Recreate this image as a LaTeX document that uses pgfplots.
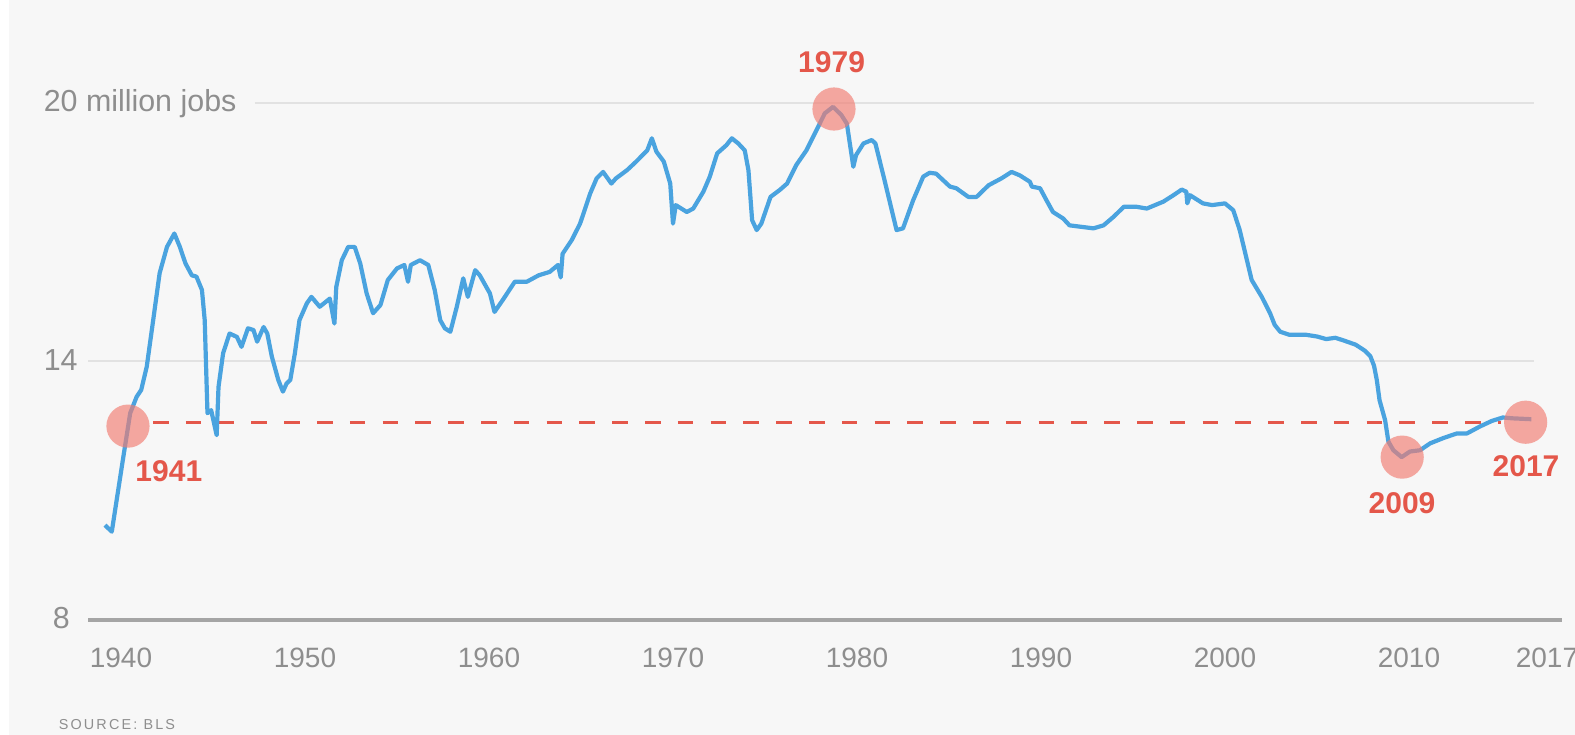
\documentclass[border=0pt]{standalone}
\usepackage{fontspec}
\setmainfont{Liberation Sans}
\newfontfamily\srcfont[LetterSpace=15]{Liberation Sans}
\usepackage{pgfplots}
\pgfplotsset{compat=1.18}

\definecolor{bg}{HTML}{F7F7F7}
\definecolor{jobblue}{HTML}{4AA3DF}
\definecolor{markred}{HTML}{E4574A}
\definecolor{dotpink}{HTML}{F27C71}
\definecolor{labgray}{HTML}{8E8E8E}
\definecolor{gridgray}{HTML}{E2E2E2}
\definecolor{basegray}{HTML}{A5A5A5}

% manufacturing jobs, millions
\pgfplotstableread{
year value
1939.13 10.20
1939.50 10.05
1940.10 11.71
1940.50 12.80
1940.85 13.18
1941.10 13.34
1941.40 13.88
1941.75 14.96
1942.10 16.05
1942.50 16.66
1942.90 16.97
1943.20 16.66
1943.50 16.28
1943.85 16.00
1944.10 15.97
1944.40 15.66
1944.55 14.96
1944.70 12.80
1944.90 12.87
1945.20 12.29
1945.30 13.41
1945.55 14.19
1945.90 14.65
1946.30 14.57
1946.55 14.34
1946.90 14.77
1947.20 14.73
1947.40 14.46
1947.75 14.80
1947.95 14.65
1948.20 14.11
1948.55 13.57
1948.80 13.30
1949.00 13.49
1949.20 13.57
1949.45 14.19
1949.70 14.96
1950.10 15.35
1950.35 15.50
1950.80 15.27
1951.35 15.46
1951.60 14.88
1951.70 15.73
1952.00 16.35
1952.35 16.66
1952.70 16.66
1953.00 16.28
1953.35 15.58
1953.70 15.12
1954.10 15.31
1954.50 15.89
1955.00 16.16
1955.40 16.24
1955.60 15.85
1955.75 16.24
1956.25 16.35
1956.70 16.24
1957.05 15.66
1957.35 14.96
1957.60 14.77
1957.90 14.69
1958.25 15.27
1958.60 15.93
1958.85 15.50
1959.25 16.12
1959.50 16.00
1960.05 15.58
1960.30 15.15
1960.80 15.46
1961.40 15.85
1962.05 15.85
1962.70 16.00
1963.30 16.08
1963.75 16.24
1963.90 15.95
1964.00 16.50
1964.50 16.82
1964.95 17.20
1965.50 17.90
1965.85 18.25
1966.20 18.40
1966.65 18.13
1966.90 18.25
1967.50 18.44
1968.00 18.64
1968.60 18.90
1968.85 19.18
1969.10 18.87
1969.50 18.64
1969.85 18.13
1970.00 17.20
1970.15 17.63
1970.75 17.47
1971.10 17.55
1971.65 17.94
1972.00 18.29
1972.40 18.83
1972.90 19.02
1973.20 19.18
1973.55 19.06
1973.90 18.90
1974.10 18.44
1974.30 17.28
1974.55 17.05
1974.80 17.20
1975.30 17.82
1975.80 17.98
1976.20 18.13
1976.70 18.56
1977.25 18.90
1977.80 19.37
1978.25 19.76
1978.70 19.91
1979.15 19.72
1979.45 19.52
1979.80 18.52
1979.95 18.79
1980.35 19.06
1980.80 19.14
1981.00 19.06
1981.45 18.29
1982.15 17.05
1982.50 17.09
1983.05 17.74
1983.60 18.29
1983.95 18.38
1984.30 18.36
1985.05 18.06
1985.40 18.02
1986.05 17.82
1986.50 17.82
1987.15 18.09
1987.85 18.25
1988.40 18.40
1988.85 18.32
1989.40 18.17
1989.50 18.06
1989.95 18.02
1990.30 17.74
1990.65 17.47
1991.20 17.32
1991.55 17.16
1992.10 17.13
1992.85 17.09
1993.40 17.16
1993.95 17.36
1994.50 17.59
1995.20 17.59
1995.75 17.55
1996.65 17.71
1997.20 17.86
1997.65 17.99
1997.90 17.94
1997.95 17.67
1998.10 17.86
1998.80 17.67
1999.30 17.63
2000.00 17.67
2000.45 17.51
2000.80 17.05
2001.45 15.89
2002.00 15.50
2002.45 15.12
2002.70 14.85
2003.00 14.69
2003.50 14.62
2004.40 14.62
2005.00 14.58
2005.50 14.52
2006.00 14.55
2006.50 14.48
2007.10 14.39
2007.60 14.25
2007.90 14.12
2008.10 13.90
2008.25 13.57
2008.40 13.10
2008.70 12.64
2008.88 12.14
2009.15 11.94
2009.60 11.78
2010.05 11.91
2010.60 11.94
2011.15 12.10
2011.85 12.22
2012.60 12.33
2013.15 12.33
2013.85 12.49
2014.50 12.62
2015.10 12.70
2015.65 12.68
2016.65 12.66
}\jobs

\begin{document}
\begin{tikzpicture}
% page 1575x735 px at 0.25pt a pixel; axis corner sits at (88px, 620px)
\fill[bg] (-22pt,-28.75pt) rectangle (371.75pt,155pt);
\fill[white] (-22pt,-28.75pt) rectangle (-19.75pt,155pt);
\useasboundingbox (-22pt,-28.75pt) rectangle (371.75pt,155pt);
\begin{axis}[
  scale only axis, width=368.5pt, height=129.25pt,
  xmin=1938.207, xmax=2018.315, ymin=8, ymax=20,
  clip=false,
  axis line style={draw=none},
  tick style={draw=none},
  xtick={1940,1950,1960,1970,1980,1990,2000,2010,2017.5},
  xticklabels={1940,1950,1960,1970,1980,1990,2000,2010,2017},
  ytick={8,14,20},
  yticklabels={\hspace{2.25pt}8,14,20 million jobs},
  xticklabel style={font=\fontsize{7}{8}\selectfont, text=labgray,
    anchor=base, inner sep=0pt, yshift=-12pt},
  yticklabel style={font=\fontsize{7.6}{9}\selectfont, text=labgray,
    anchor=base west, inner sep=0pt, xshift=-11.25pt, yshift=-2.2pt},
]
\draw[gridgray, line width=0.5pt] (axis cs:1938.207,14) -- (axis cs:2016.79,14);
\draw[gridgray, line width=0.5pt] (axis cs:1947.28,20) -- (axis cs:2016.79,20);
\draw[basegray, line width=0.8pt] (axis cs:1938.207,8) -- (axis cs:2018.315,8);

\addplot[markred, line width=0.8pt, dash pattern=on 3.9pt off 4.3pt]
  coordinates {(1941.74,12.58) (2015.0,12.58)};

\addplot[jobblue, line width=1.05pt, line join=round, mark=none] table[x=year, y=value] {\jobs};

\addplot[only marks, mark=*, mark size=5.4pt, color=dotpink,
  fill opacity=0.65, draw opacity=0]
  coordinates {(1940.38,12.50) (1978.75,19.86) (2009.63,11.78) (2016.34,12.59)};

\node[font=\bfseries\fontsize{7.5}{9}\selectfont, text=markred] at (axis cs:1942.6,11.46) {1941};
\node[font=\bfseries\fontsize{7.5}{9}\selectfont, text=markred] at (axis cs:1978.62,20.94) {1979};
\node[font=\bfseries\fontsize{7.5}{9}\selectfont, text=markred] at (axis cs:2009.62,10.71) {2009};
\node[font=\bfseries\fontsize{7.5}{9}\selectfont, text=markred] at (axis cs:2016.36,11.57) {2017};
\end{axis}
\node[anchor=base west, inner sep=0pt, text=labgray,
  font=\srcfont\fontsize{3.6}{4}\selectfont] at (-7.5pt,-27.4pt) {SOURCE: BLS};
\end{tikzpicture}
\end{document}
